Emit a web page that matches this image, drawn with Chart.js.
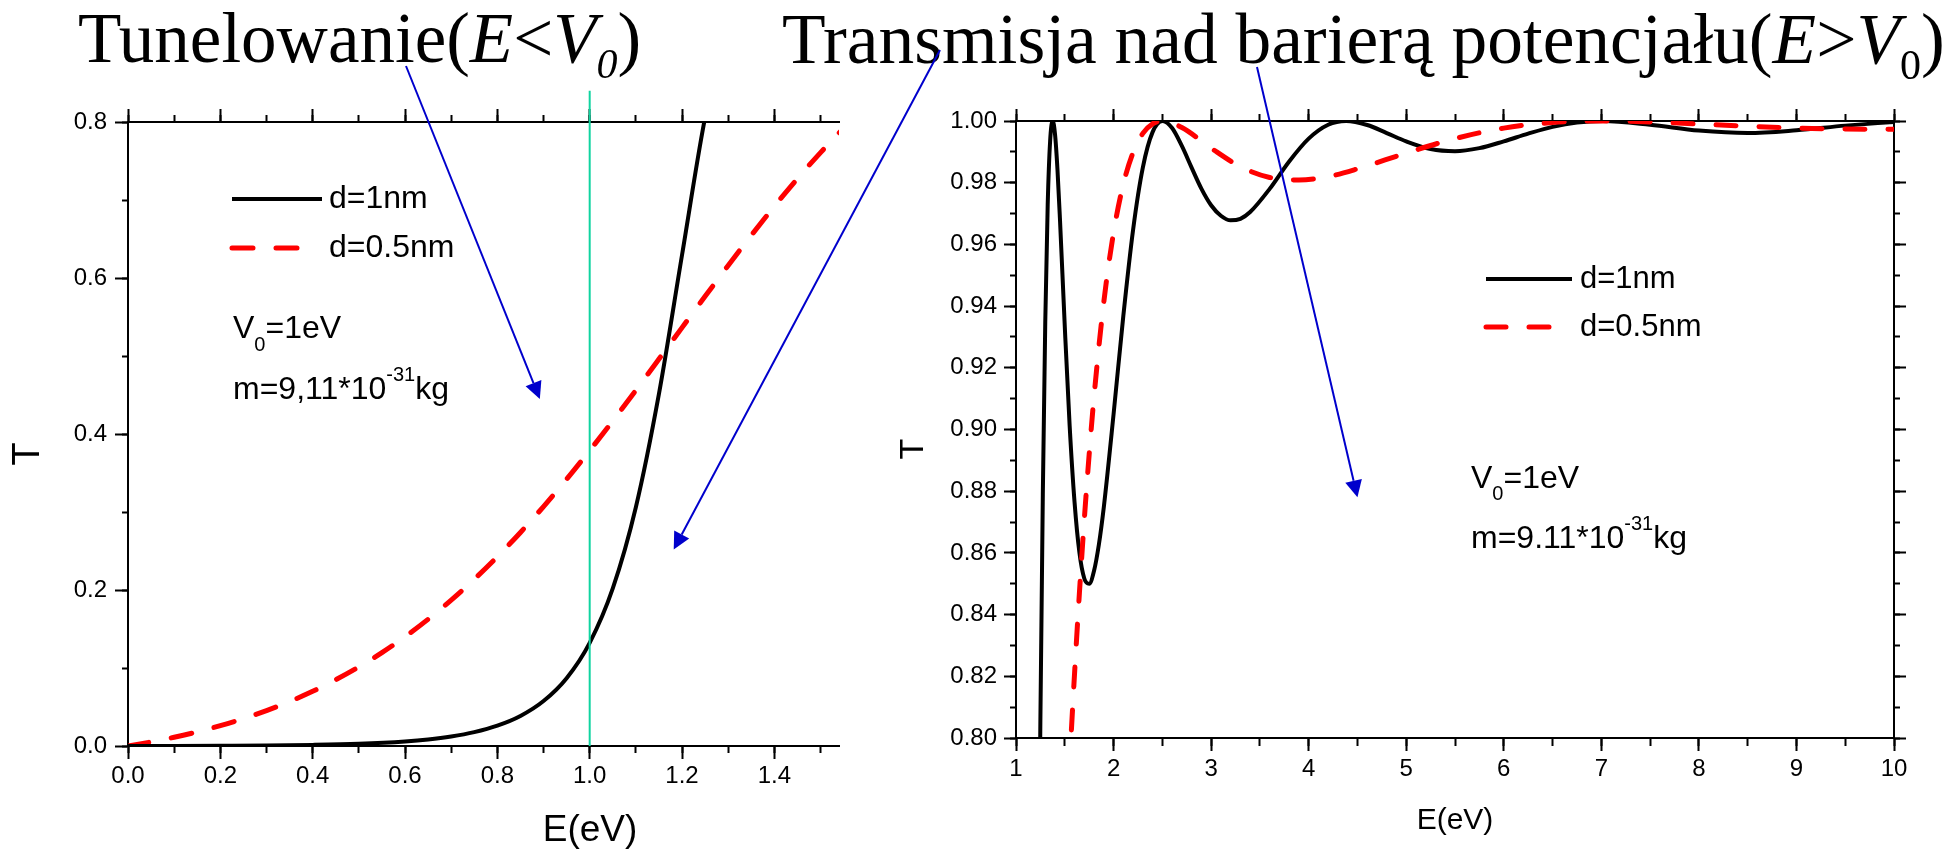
<!DOCTYPE html>
<html>
<head>
<meta charset="utf-8">
<script src="https://cdn.jsdelivr.net/npm/chart.js@4.4.1/dist/chart.umd.min.js"></script>
<style>
  html, body { margin: 0; padding: 0; background: #fff; }
  body { width: 1944px; height: 856px; position: relative; overflow: hidden; }
  canvas { position: absolute; top: 0; }
  #tunnelChart { left: 0; }
  #overChart { left: 880px; }
  #arrows { left: 0; z-index: 3; pointer-events: none; }
  .heading {
    position: absolute; top: 3px; z-index: 2;
    font-family: "Liberation Serif", "Times New Roman", serif;
    font-size: 71px; line-height: 71px; white-space: nowrap; color: #000;
  }
  .heading sub { font-size: 42px; line-height: 0; vertical-align: -16px; }
</style>
</head>
<body>
<div class="heading" style="left:78px">Tunelowanie(<i>E</i>&lt;<i>V<sub>0</sub></i>)</div>
<div class="heading" style="left:782px;font-size:71.4px">Transmisja nad barierą potencjału(<i>E</i>&gt;<i>V</i><sub>0</sub>)</div>
<canvas id="tunnelChart" width="880" height="856"></canvas>
<canvas id="overChart" width="1064" height="856"></canvas>
<canvas id="arrows" width="1944" height="856"></canvas>
<script>
// left panel: E < V0 (curves run a bit past the barrier and get clipped at T=0.8)
const tunnelE1 = [0, 0.1, 0.2, 0.3, 0.4, 0.5, 0.6, 0.65, 0.7, 0.75, 0.8, 0.85, 0.9, 0.95, 1.0,
  1.05, 1.1, 1.15, 1.2, 1.25, 1.3];
const tunnelT1 = [0, 0.0001, 0.0003, 0.0006, 0.0014, 0.0029, 0.0059, 0.0084, 0.0122, 0.0178, 0.0261,
  0.0385, 0.0576, 0.0869, 0.1323, 0.2020, 0.3061, 0.4514, 0.6295, 0.806, 0.935];
const tunnelE05 = [0, 0.05, 0.1, 0.15, 0.2, 0.25, 0.3, 0.35, 0.4, 0.45, 0.5, 0.55, 0.6, 0.65, 0.7,
  0.75, 0.8, 0.85, 0.9, 0.95, 1.0, 1.05, 1.1, 1.15, 1.2, 1.25, 1.3, 1.35, 1.4, 1.45, 1.5, 1.55];
const tunnelT05 = [0, 0.0052, 0.0112, 0.0181, 0.0261, 0.0351, 0.0454, 0.0570, 0.0701, 0.0849, 0.1014,
  0.1197, 0.1401, 0.1625, 0.1871, 0.2138, 0.2427, 0.2738, 0.3070, 0.3420, 0.3788, 0.4168, 0.4561,
  0.4961, 0.5364, 0.5765, 0.6161, 0.6547, 0.6919, 0.7274, 0.7608, 0.7920];
const barrierE = 1.0;
const barrierMarkT = [0, 0.84];

// right panel: E > V0
const overE1 = [1.2, 1.22, 1.25, 1.275, 1.3, 1.325, 1.35, 1.376, 1.4, 1.425, 1.45, 1.5, 1.55, 1.6,
  1.65, 1.7, 1.75, 1.8, 1.85, 1.9, 2.0, 2.1, 2.2, 2.3, 2.4, 2.504, 2.6, 2.7, 2.8, 2.9, 3.0, 3.1, 3.2,
  3.3, 3.4, 3.6, 3.8, 4.0, 4.2, 4.384, 4.6, 4.8, 5.0, 5.25, 5.5, 5.75, 6.0, 6.25, 6.5, 6.75, 7.017,
  7.5, 8.0, 8.5, 9.0, 9.5, 10.0];
const overT1 = [0.6295, 0.7031, 0.806, 0.8789, 0.935, 0.9729, 0.9936, 1.0, 0.9957, 0.9843, 0.9686,
  0.9334, 0.9012, 0.8765, 0.8601, 0.8517, 0.8500, 0.8542, 0.8628, 0.8748, 0.9049, 0.9368, 0.9647,
  0.9849, 0.9964, 1.0, 0.9977, 0.9919, 0.9849, 0.9781, 0.9727, 0.9693, 0.9678, 0.9683, 0.9705,
  0.9780, 0.9869, 0.9943, 0.9988, 1.0, 0.9987, 0.9961, 0.9934, 0.9909, 0.9902, 0.9912, 0.9934,
  0.9959, 0.9981, 0.9995, 1.0, 0.9988, 0.9969, 0.9961, 0.9970, 0.9985, 0.9997];
const overE05 = [1.5, 1.55, 1.6, 1.65, 1.7, 1.75, 1.8, 1.9, 2.0, 2.1, 2.2, 2.3, 2.4, 2.504, 2.7, 3.0,
  3.3, 3.6, 3.9, 4.2, 4.5, 5.0, 5.5, 6.0, 6.5, 7.017, 7.5, 8.0, 8.5, 9.0, 9.5, 10.0];
const overT05 = [0.7608, 0.7920, 0.8208, 0.8470, 0.8708, 0.8919, 0.9107, 0.9413, 0.9638, 0.9795,
  0.9898, 0.9960, 0.9991, 1.0, 0.9979, 0.9912, 0.9852, 0.9817, 0.9809, 0.9820, 0.9845, 0.9896,
  0.9943, 0.9977, 0.9995, 1.0, 0.9997, 0.9990, 0.9983, 0.9977, 0.9974, 0.9973];

Chart.defaults.font.family = '"Liberation Sans", Arial, sans-serif';
Chart.defaults.color = '#000';

const pts = (xs, ys) => xs.map((x, i) => ({ x, y: ys[i] }));

function clearPadding(scale) {
  scale.paddingLeft = 0;
  scale.paddingRight = 0;
  scale.paddingTop = 0;
  scale.paddingBottom = 0;
}

// labelled axis with the long (major) tick marks
function mainAxis(position, min, max, step, tickLen, size, labelPad, fontSize, digits) {
  const horizontal = position === "top" || position === "bottom";
  return {
    type: "linear", position, min, max, weight: 1,
    ticks: {
      stepSize: step, includeBounds: false, autoSkip: false, maxRotation: 0,
      padding: labelPad, font: { size: fontSize }, color: "#000",
      callback: (v) => Number(v).toFixed(digits),
    },
    grid: { drawOnChartArea: false, tickLength: tickLen, tickWidth: 2, tickColor: "#000" },
    border: { display: true, color: "#000", width: 2 },
    afterFit(scale) {
      if (horizontal) scale.height = size;
      else scale.width = size;
      clearPadding(scale);
    },
  };
}

// tick marks only (minor ticks, mirrored top / right frame)
function frameAxis(position, min, max, step, tickLen, withLine) {
  const horizontal = position === "top" || position === "bottom";
  return {
    type: "linear", position, min, max, weight: 0,
    ticks: { display: false, stepSize: step, includeBounds: false },
    grid: { drawOnChartArea: false, tickLength: tickLen, tickWidth: 2, tickColor: "#000" },
    border: { display: withLine, color: "#000", width: 2 },
    afterFit(scale) {
      if (horizontal) scale.height = 0;
      else scale.width = 0;
      clearPadding(scale);
    },
  };
}

const curveKey = {
  id: "curveKey",
  afterDatasetsDraw(chart, args, o) {
    const { ctx, chartArea } = chart;
    ctx.save();
    o.items.forEach((it, i) => {
      const ds = chart.data.datasets[it.dataset];
      const x0 = chartArea.left + o.left;
      const y = chartArea.top + o.top + i * o.rowGap;
      ctx.strokeStyle = ds.borderColor;
      ctx.lineWidth = ds.borderWidth;
      ctx.lineCap = ds.borderCapStyle || "butt";
      ctx.setLineDash(ds.borderDash || []);
      ctx.beginPath();
      ctx.moveTo(x0, y);
      ctx.lineTo(x0 + it.length, y);
      ctx.stroke();
      ctx.setLineDash([]);
      ctx.fillStyle = "#000";
      ctx.font = o.size + 'px "Liberation Sans"';
      ctx.textBaseline = "middle";
      ctx.fillText(ds.label, x0 + o.textGap, y);
    });
    ctx.restore();
  },
};

const notes = {
  id: "notes",
  afterDatasetsDraw(chart, args, o) {
    const { ctx, chartArea } = chart;
    ctx.save();
    ctx.fillStyle = "#000";
    ctx.textBaseline = "alphabetic";
    o.lines.forEach((parts, i) => {
      let x = chartArea.left + o.left;
      const base = chartArea.top + o.top + i * o.lineGap;
      parts.forEach((p) => {
        const size = p.shift ? o.smallSize : o.size;
        ctx.font = size + 'px "Liberation Sans"';
        const dy = p.shift === "sub" ? o.subDrop : p.shift === "sup" ? -o.supRise : 0;
        ctx.fillText(p.text, x, base + dy);
        x += ctx.measureText(p.text).width;
      });
    });
    ctx.restore();
  },
};

const captions = {
  id: "captions",
  afterDraw(chart, args, o) {
    const { ctx, chartArea } = chart;
    ctx.save();
    ctx.fillStyle = "#000";
    ctx.textAlign = "center";
    ctx.textBaseline = "middle";
    o.items.forEach((c) => {
      ctx.save();
      ctx.translate(chartArea.left + c.dx, chartArea.top + c.dy);
      if (c.rotate) ctx.rotate(-Math.PI / 2);
      ctx.font = c.size + 'px "Liberation Sans"';
      ctx.fillText(c.text, 0, 0);
      ctx.restore();
    });
    ctx.restore();
  },
};

const tunnelChart = new Chart(document.getElementById("tunnelChart"), {
  type: "line",
  data: {
    datasets: [
      {
        label: "V0",
        data: barrierMarkT.map((t) => ({ x: barrierE, y: t })),
        borderColor: "#10d4a0", borderWidth: 2, pointRadius: 0, clip: false,
        xAxisID: "x", yAxisID: "y",
      },
      {
        label: "d=1nm",
        data: pts(tunnelE1, tunnelT1),
        borderColor: "#000", borderWidth: 4, pointRadius: 0,
        cubicInterpolationMode: "monotone", xAxisID: "x", yAxisID: "y",
      },
      {
        label: "d=0.5nm",
        data: pts(tunnelE05, tunnelT05),
        borderColor: "#ff0000", borderWidth: 5, borderDash: [21, 23], borderCapStyle: "round",
        pointRadius: 0, cubicInterpolationMode: "monotone", xAxisID: "x", yAxisID: "y",
      },
    ],
  },
  options: {
    responsive: false,
    animation: false,
    parsing: false,
    layout: { padding: { top: 122, right: 41, left: 0, bottom: 0 } },
    scales: {
      x: mainAxis("bottom", 0, 1.54, 0.2, 13, 110, 3, 24, 1),
      xMinor: frameAxis("bottom", 0, 1.54, 0.1, 7, false),
      xTop: frameAxis("top", 0, 1.54, 0.2, 13, true),
      xTopMinor: frameAxis("top", 0, 1.54, 0.1, 7, false),
      y: mainAxis("left", 0, 0.8, 0.2, 13, 128, 8, 24, 1),
      yMinor: frameAxis("left", 0, 0.8, 0.1, 6, false),
    },
    plugins: {
      legend: { display: false },
      tooltip: { enabled: false },
      curveKey: {
        left: 104, top: 77, rowGap: 49, textGap: 97, size: 32,
        items: [{ dataset: 1, length: 90 }, { dataset: 2, length: 66 }],
      },
      notes: {
        left: 105, top: 216, lineGap: 61, size: 32, smallSize: 20, subDrop: 13, supRise: 18,
        lines: [
          [{ text: "V" }, { text: "0", shift: "sub" }, { text: "=1eV" }],
          [{ text: "m=9,11*10" }, { text: "-31", shift: "sup" }, { text: "kg" }],
        ],
      },
      captions: {
        items: [
          { text: "T", dx: -99, dy: 332, size: 38, rotate: true },
          { text: "E(eV)", dx: 462, dy: 709, size: 37 },
        ],
      },
    },
  },
  plugins: [curveKey, notes, captions],
});

const overChart = new Chart(document.getElementById("overChart"), {
  type: "line",
  data: {
    datasets: [
      {
        label: "d=0.5nm",
        data: pts(overE05, overT05),
        borderColor: "#ff0000", borderWidth: 5, borderDash: [20, 23], borderCapStyle: "round",
        pointRadius: 0, cubicInterpolationMode: "monotone", xAxisID: "x", yAxisID: "y",
      },
      {
        label: "d=1nm",
        data: pts(overE1, overT1),
        borderColor: "#000", borderWidth: 4, pointRadius: 0,
        cubicInterpolationMode: "monotone", xAxisID: "x", yAxisID: "y",
      },
    ],
  },
  options: {
    responsive: false,
    animation: false,
    parsing: false,
    layout: { padding: { top: 121, right: 50, left: 0, bottom: 0 } },
    scales: {
      x: mainAxis("bottom", 1, 10, 1, 13, 118, 4, 24, 0),
      xMinor: frameAxis("bottom", 1, 10, 0.5, 8, false),
      xTop: frameAxis("top", 1, 10, 1, 12, true),
      xTopMinor: frameAxis("top", 1, 10, 0.5, 7, false),
      y: mainAxis("left", 0.8, 1.0, 0.02, 12, 136, 7, 24, 2),
      yMinor: frameAxis("left", 0.8, 1.0, 0.01, 6, false),
      yRight: frameAxis("right", 0.8, 1.0, 0.02, 12, true),
      yRightMinor: frameAxis("right", 0.8, 1.0, 0.01, 6, false),
    },
    plugins: {
      legend: { display: false },
      tooltip: { enabled: false },
      curveKey: {
        left: 470, top: 158, rowGap: 48, textGap: 94, size: 31,
        items: [{ dataset: 1, length: 86 }, { dataset: 0, length: 64 }],
      },
      notes: {
        left: 455, top: 367, lineGap: 60, size: 32, smallSize: 20, subDrop: 12, supRise: 18,
        lines: [
          [{ text: "V" }, { text: "0", shift: "sub" }, { text: "=1eV" }],
          [{ text: "m=9.11*10" }, { text: "-31", shift: "sup" }, { text: "kg" }],
        ],
      },
      captions: {
        items: [
          { text: "T", dx: -102, dy: 328, size: 34, rotate: true },
          { text: "E(eV)", dx: 439, dy: 700, size: 30 },
        ],
      },
    },
  },
  plugins: [curveKey, notes, captions],
});

// blue pointers: start under the headings (page px), tip in data units of a chart
const pointers = [
  { from: [406, 66], chart: tunnelChart, at: [0.892, 0.445] },
  { from: [940, 50], chart: tunnelChart, at: [1.182, 0.252] },
  { from: [1257, 67], chart: overChart, at: [4.5, 0.878] },
];

function drawPointers() {
  const ctx = document.getElementById("arrows").getContext("2d");
  ctx.strokeStyle = "#0000cc";
  ctx.fillStyle = "#0000cc";
  ctx.lineWidth = 2;
  pointers.forEach((p) => {
    const c = p.chart;
    const tx = c.canvas.offsetLeft + c.scales.x.getPixelForValue(p.at[0]);
    const ty = c.canvas.offsetTop + c.scales.y.getPixelForValue(p.at[1]);
    const [fx, fy] = p.from;
    const ang = Math.atan2(ty - fy, tx - fx);
    const head = 17, half = 8.5;
    const bx = tx - head * Math.cos(ang);
    const by = ty - head * Math.sin(ang);
    ctx.beginPath();
    ctx.moveTo(fx, fy);
    ctx.lineTo(bx, by);
    ctx.stroke();
    ctx.beginPath();
    ctx.moveTo(tx, ty);
    ctx.lineTo(bx + half * Math.sin(ang), by - half * Math.cos(ang));
    ctx.lineTo(bx - half * Math.sin(ang), by + half * Math.cos(ang));
    ctx.closePath();
    ctx.fill();
  });
}

drawPointers();
</script>
</body>
</html>
